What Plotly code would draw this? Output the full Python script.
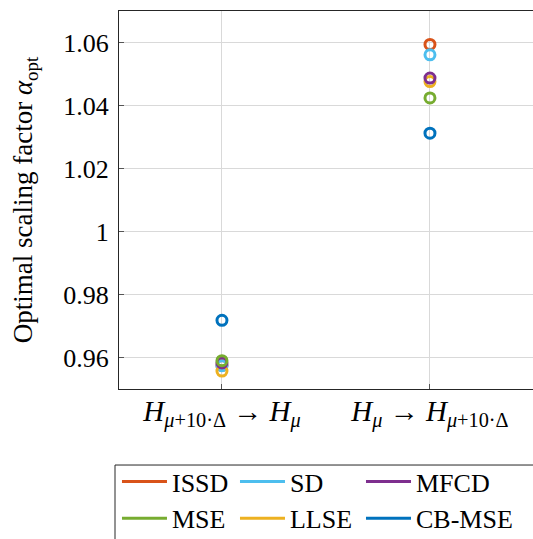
import plotly.graph_objects as go

categories = [
    "<i>H</i><sub><i>μ</i>+10·Δ</sub> → <i>H</i><sub><i>μ</i></sub>",
    "<i>H</i><sub><i>μ</i></sub> → <i>H</i><sub><i>μ</i>+10·Δ</sub>",
]
methods = ["ISSD", "SD", "MFCD", "MSE", "LLSE", "CB-MSE"]
colors = ["#D95319", "#4DBEEE", "#7E2F8E", "#77AC30", "#EDB120", "#0072BD"]
legend_columns = ["legend", "legend2", "legend3", "legend", "legend2", "legend3"]

issd = [0.9575, 1.0594]
sd = [0.9574, 1.0561]
mfcd = [0.9583, 1.0487]
mse = [0.9590, 1.0424]
llse = [0.9557, 1.0476]
cbmse = [0.9718, 1.0312]

series = [issd, sd, mfcd, mse, llse, cbmse]
draw_order = [0, 1, 4, 2, 3, 5]

FONT = "Liberation Serif, DejaVu Serif, Times New Roman, serif"

fig = go.Figure()
for i in draw_order:
    fig.add_trace(go.Scatter(
        x=categories, y=series[i], mode="markers", showlegend=False,
        marker=dict(symbol="circle-open", size=10, color=colors[i],
                    line=dict(width=3, color=colors[i])),
        name=methods[i], cliponaxis=False,
    ))
for name, c, lg in zip(methods, colors, legend_columns):
    fig.add_trace(go.Scatter(
        x=[None], y=[None], mode="lines", name=name, legend=lg,
        line=dict(color=c, width=3),
    ))

legend_style = dict(
    orientation="v", xref="paper", yref="paper",
    y=-0.1825, xanchor="left", yanchor="top",
    borderwidth=0, bgcolor="rgba(0,0,0,0)", itemwidth=45,
    font=dict(family=FONT, size=26), traceorder="normal",
    tracegroupgap=0,
)

fig.update_layout(
    width=540, height=560,
    margin=dict(l=119, r=0, t=11, b=171),
    paper_bgcolor="white", plot_bgcolor="white",
    font=dict(family=FONT, size=26, color="black"),
    xaxis=dict(
        type="category", range=[-0.495, 1.529],
        showgrid=True, gridcolor="#d9d9d9", gridwidth=1,
        showline=True, linecolor="#262626", linewidth=1, mirror=True,
        ticks="inside", ticklen=5, tickcolor="#555",
        tickfont=dict(family=FONT, size=29), ticklabelstandoff=-4,
        automargin=False,
    ),
    yaxis=dict(
        range=[0.95, 1.07],
        tickvals=[0.96, 0.98, 1.0, 1.02, 1.04, 1.06],
        ticktext=["0.96", "0.98", "1", "1.02", "1.04", "1.06"],
        showgrid=True, gridcolor="#d9d9d9", gridwidth=1,
        showline=True, linecolor="#262626", linewidth=1, mirror="ticks",
        ticks="inside", ticklen=5, tickcolor="#555",
        zeroline=False, automargin=False,
        tickfont=dict(family=FONT, size=26), ticklabelstandoff=4,
        title=dict(text="Optimal scaling factor <i>α</i><sub>opt</sub>",
                   font=dict(family=FONT, size=27), standoff=22),
    ),
    legend=dict(legend_style, x=-0.0048),
    legend2=dict(legend_style, x=0.2755),
    legend3=dict(legend_style, x=0.5748),
    shapes=[dict(
        type="rect", xref="paper", yref="paper",
        x0=-0.0095, x1=1.2, y0=-0.2011, y1=-0.6,
        line=dict(color="#262626", width=1), fillcolor="rgba(0,0,0,0)",
        layer="below",
    )],
)

fig.write_html(
    "out.html",
    config={"displayModeBar": False},
    post_script="document.body.style.margin='0';"
                "document.documentElement.style.overflow='hidden';"
                "document.body.style.overflow='hidden';",
)
